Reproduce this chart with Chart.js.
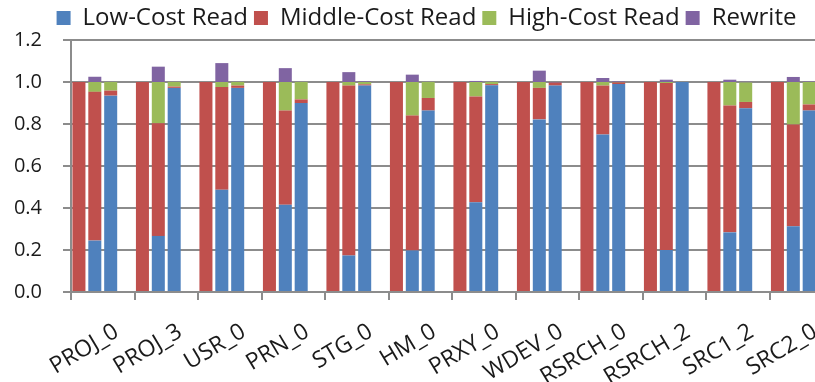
<!DOCTYPE html>
<html>
<head>
<meta charset="utf-8">
<script src="https://cdn.jsdelivr.net/npm/chart.js@4/dist/chart.umd.min.js"></script>
<style>
  html, body { margin: 0; padding: 0; background: #fff; overflow: hidden; }
  #wrap { width: 836px; height: 382px; }
</style>
</head>
<body>
<div id="wrap"><canvas id="c" width="836" height="382"></canvas></div>
<script>
// ---- data ----
const traces = ["PROJ_0", "PROJ_3", "USR_0", "PRN_0", "STG_0", "HM_0", "PRXY_0", "WDEV_0", "RSRCH_0", "RSRCH_2", "SRC1_2", "SRC2_0"];
const seriesNames = ["Low-Cost Read", "Middle-Cost Read", "High-Cost Read", "Rewrite"];
const yTicks = [0, 0.2, 0.4, 0.6, 0.8, 1.0, 1.2];

// first bar of each group: everything middle cost
const baseMiddle = [1, 1, 1, 1, 1, 1, 1, 1, 1, 1, 1, 1];

// second bar
const low2  = [0.245, 0.267, 0.487, 0.416, 0.174, 0.198, 0.427, 0.822, 0.750, 0.200, 0.284, 0.313];
const mid2  = [0.708, 0.537, 0.489, 0.448, 0.809, 0.642, 0.504, 0.150, 0.233, 0.795, 0.604, 0.485];
const high2 = [0.047, 0.196, 0.024, 0.136, 0.017, 0.160, 0.069, 0.028, 0.017, 0.005, 0.112, 0.202];
const rew2  = [0.025, 0.073, 0.090, 0.066, 0.047, 0.035, 0.005, 0.054, 0.019, 0.011, 0.011, 0.024];

// third bar
const low3  = [0.935, 0.972, 0.972, 0.900, 0.983, 0.864, 0.984, 0.983, 0.990, 1.000, 0.875, 0.864];
const mid3  = [0.024, 0.006, 0.011, 0.017, 0.006, 0.060, 0.006, 0.014, 0.008, 0.000, 0.030, 0.029];
const high3 = [0.041, 0.022, 0.017, 0.083, 0.011, 0.076, 0.010, 0.000, 0.002, 0.000, 0.093, 0.107];
const rew3  = [0.000, 0.000, 0.000, 0.000, 0.003, 0.000, 0.000, 0.003, 0.003, 0.000, 0.003, 0.002];

const spacer = traces.map(() => 0);

const colors = ["#4F81BD", "#C0504D", "#9BBB59", "#8064A2"];
const FONT = "'Open Sans', sans-serif";
const TXT = "#1a1a1a";
const GRID = "#8c8c8c";

function ds(data, kind, stack) {
    return {
        label: seriesNames[kind],
        data: data,
        backgroundColor: colors[kind],
        borderWidth: 0,
        stack: stack,
        barPercentage: 0.82,
        categoryPercentage: 1.0
    };
}

const datasets = [
    ds(baseMiddle, 1, "a"),
    ds(low2, 0, "b"), ds(mid2, 1, "b"), ds(high2, 2, "b"), ds(rew2, 3, "b"),
    ds(low3, 0, "c"), ds(mid3, 1, "c"), ds(high3, 2, "c"), ds(rew3, 3, "c"),
    ds(spacer, 0, "d")
];

// nudge the legend a little to the right
const legendShift = {
    id: "legendShift",
    afterLayout(chart) {
        chart.legend.left += 10;
        chart.legend.right += 10;
    }
};

new Chart(document.getElementById("c"), {
    type: "bar",
    data: { labels: traces, datasets: datasets },
    plugins: [legendShift],
    options: {
        responsive: false,
        animation: false,
        layout: { padding: { left: 0, right: 3, top: 0, bottom: 0 } },
        plugins: {
            tooltip: { enabled: false },
            legend: {
                position: "top",
                labels: {
                    font: { family: FONT, size: 24 },
                    color: TXT,
                    boxWidth: 14,
                    boxHeight: 14,
                    padding: 6,
                    generateLabels: () => seriesNames.map((n, i) => ({
                        text: n,
                        fillStyle: colors[i],
                        strokeStyle: colors[i],
                        lineWidth: 0,
                        fontColor: TXT,
                        hidden: false,
                        datasetIndex: i
                    }))
                },
                onClick: () => {}
            }
        },
        scales: {
            x: {
                stacked: true,
                offset: true,
                afterFit: s => { s.height = 90; },
                border: { color: GRID, width: 2 },
                grid: { display: true, drawOnChartArea: false, offset: true, tickLength: 8, color: GRID, lineWidth: 2 },
                ticks: {
                    color: TXT,
                    font: { family: FONT, size: 23 },
                    minRotation: 31,
                    maxRotation: 31,
                    autoSkip: false,
                    padding: 18,
                    labelOffset: 14
                }
            },
            y: {
                stacked: true,
                min: 0,
                max: 1.2,
                afterFit: s => { s.width = 71; },
                afterBuildTicks: s => { s.ticks = yTicks.map(v => ({ value: v })); },
                border: { color: GRID, width: 2 },
                grid: { color: GRID, lineWidth: 2, tickLength: 8 },
                ticks: {
                    color: TXT,
                    font: { family: FONT, size: 20 },
                    padding: 21,
                    callback: v => Number(v).toFixed(1)
                }
            }
        }
    }
});
</script>
</body>
</html>
